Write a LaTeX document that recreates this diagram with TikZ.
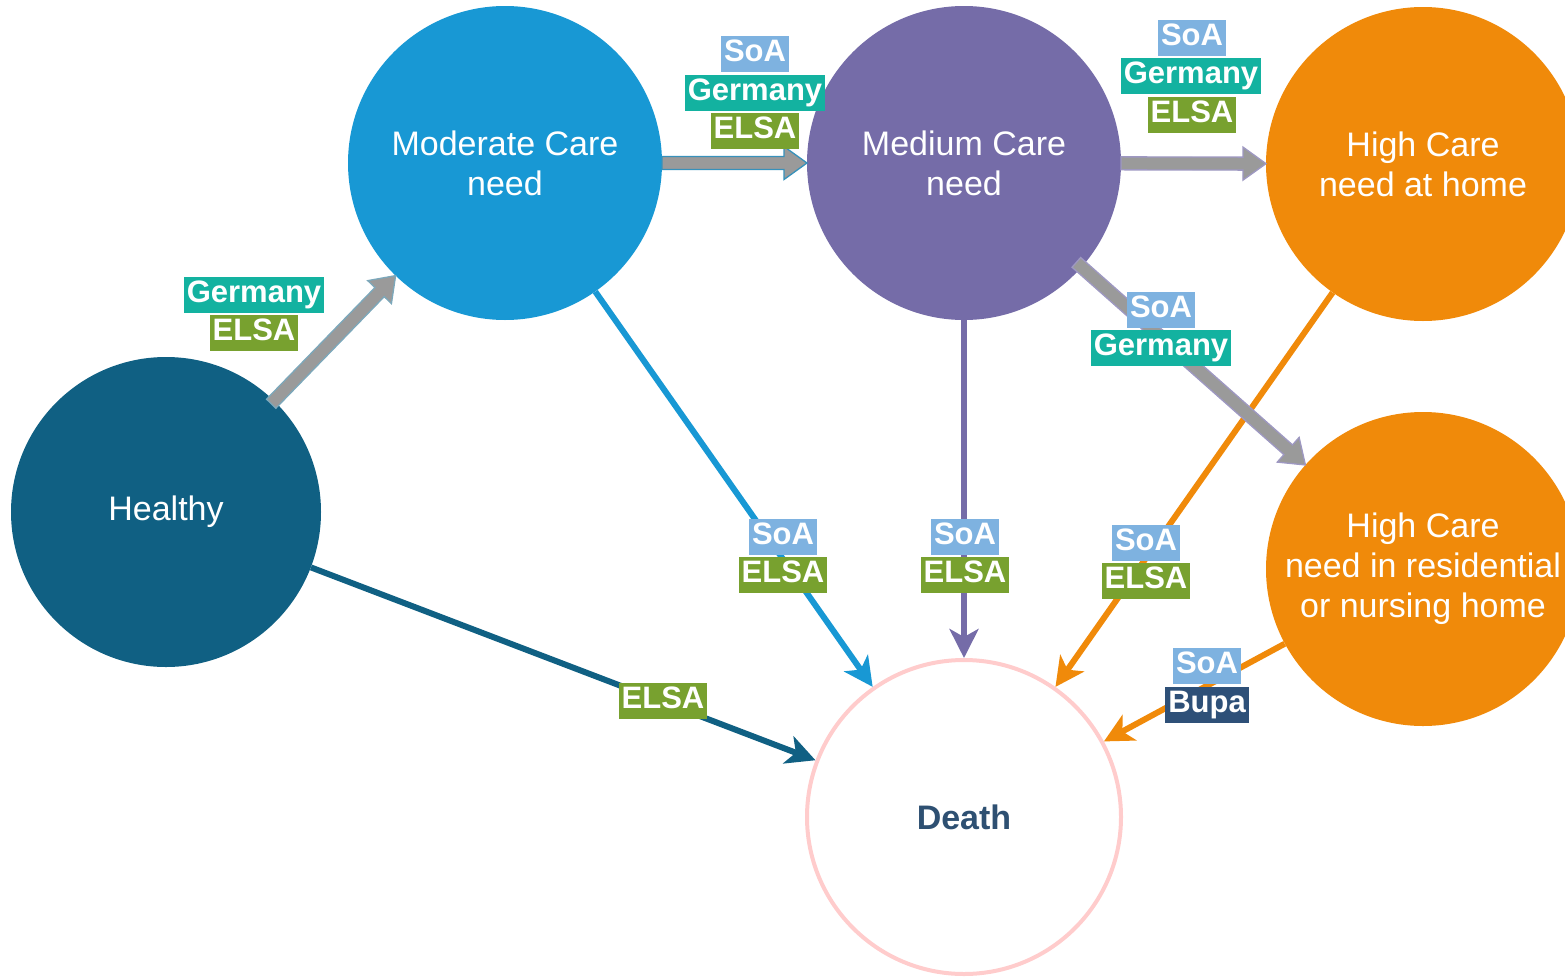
\documentclass[tikz,border=0pt]{standalone}
\usepackage{fontspec}
\setmainfont{Liberation Sans}
\usetikzlibrary{calc,arrows.meta}

\definecolor{healthyc}{RGB}{16,96,131}
\definecolor{moderatec}{RGB}{24,152,212}
\definecolor{mediumc}{RGB}{117,108,168}
\definecolor{highc}{RGB}{240,138,10}
\definecolor{deathring}{RGB}{255,204,204}
\definecolor{deathtext}{RGB}{46,80,114}
\definecolor{soac}{RGB}{126,178,224}
\definecolor{germanyc}{RGB}{19,178,160}
\definecolor{elsac}{RGB}{120,161,47}
\definecolor{bupac}{RGB}{46,80,120}
\definecolor{shaftgray}{RGB}{154,154,154}

\tikzset{
  state/.style={circle, minimum size=314pt, inner sep=0pt, align=center,
    text=white, font=\fontsize{34}{40}\selectfont},
  tag/.style={inner xsep=3pt, inner ysep=3pt, text height=22.5pt, text depth=7pt,
    text=white, font=\fontsize{31}{36}\selectfont\bfseries, yshift=-2pt},
  soa/.style={tag, fill=soac},
  germany/.style={tag, fill=germanyc},
  elsa/.style={tag, fill=elsac},
  bupa/.style={tag, fill=bupac},
  link/.style={line width=6pt, -{Stealth[length=29pt,width=29pt,inset=8pt]}},
  blockarrow/.style={fill=shaftgray, line width=1.3pt, line join=miter},
}

% broad grey arrow from node #1 to node #2, outline colour #3, start distance #4
\newcommand\blockarrow[4]{%
  \coordinate (ba-s) at ($(#1.center)!#4!(#2.center)$);
  \coordinate (ba-t) at ($(#2.center)!157pt!(#1.center)$);
  \coordinate (ba-h) at ($(ba-t)!23pt!(ba-s)$);
  \draw[blockarrow, draw=#3]
    ($(ba-s)!6.5pt!90:(ba-t)$) -- ($(ba-h)!6.5pt!90:(ba-t)$) --
    ($(ba-h)!16.5pt!90:(ba-t)$) -- (ba-t) -- ($(ba-h)!16.5pt!-90:(ba-t)$) --
    ($(ba-h)!6.5pt!-90:(ba-t)$) -- ($(ba-s)!6.5pt!-90:(ba-t)$) -- cycle;
}

\begin{document}
\begin{tikzpicture}[x=1pt,y=-1pt]
\useasboundingbox (0,0) rectangle (1565,977);
\clip (0,0) rectangle (1565,977);

% states
\node[state, fill=healthyc, minimum size=310pt] (healthy) at (166,512) {Healthy};
\node[state, fill=moderatec] (moderate) at (505,163) {Moderate Care\\need};
\node[state, fill=mediumc] (medium) at (964,163) {Medium Care\\need};
\node[state, fill=highc] (home) at (1423,164) {High Care\\need at home};
\node[state, fill=highc] (residential) at (1423,569) {High Care\\need in residential\\or nursing home};
\node[state, draw=deathring, line width=4pt, fill=white, text=deathtext,
      font=\fontsize{34}{40}\selectfont\bfseries] (death) at (964,817) {Death};

% transitions into death
\draw[link, healthyc] (healthy) -- (death);
\draw[link, moderatec] (moderate) -- (death);
\draw[link, mediumc] (medium) -- (death);
\draw[link, highc] (home) -- (death);
\draw[link, highc] (residential) -- (death);

% transitions between care levels
\blockarrow{healthy}{moderate}{healthyc!55}{151pt}
\blockarrow{moderate}{medium}{moderatec!70!gray}{157pt}
\blockarrow{medium}{home}{mediumc!70}{157pt}
\blockarrow{medium}{residential}{mediumc!70}{150pt}

% data sources
\node[germany] (g1) at (254,293) {Germany};
\node[elsa] (e1) at (254,331) {ELSA};

\node[soa] (s2) at (755,52) {SoA};
\node[germany] (g2) at (755,91) {Germany};
\node[elsa] (e2) at (755,129) {ELSA};

\node[soa] (s3) at (1192,36) {SoA};
\node[germany] (g3) at (1191,74) {Germany};
\node[elsa] (e3) at (1192,113) {ELSA};

\node[soa] (s4) at (1161,308) {SoA};
\node[germany] (g4) at (1161,346) {Germany};

\node[soa] (s5) at (783,535) {SoA};
\node[elsa] (e5) at (783,573) {ELSA};

\node[soa] (s6) at (965,535) {SoA};
\node[elsa] (e6) at (965,573) {ELSA};

\node[soa] (s7) at (1146,541) {SoA};
\node[elsa] (e7) at (1146,579) {ELSA};

\node[soa] (s8) at (1207,664) {SoA};
\node[bupa] (b8) at (1207,703) {Bupa};

\node[elsa] (e9) at (663,699) {ELSA};
\end{tikzpicture}
\end{document}
